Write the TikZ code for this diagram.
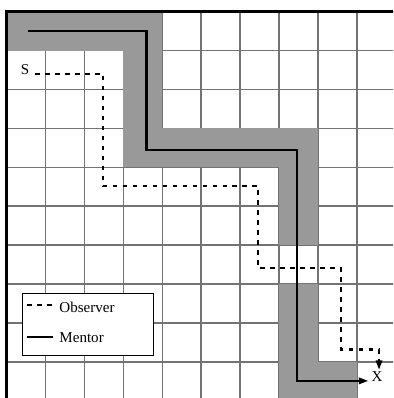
\documentclass[tikz,border=0pt]{standalone}
\usepackage{fontspec}
\setmainfont{Liberation Serif}
\usetikzlibrary{arrows.meta}

\begin{document}
\begin{tikzpicture}[
  font=\fontsize{11}{13}\selectfont,
  >={Triangle[length=7pt,width=4.5pt]},
  gridline/.style={draw=black!55, line width=1.1pt},
  corridor/.style={fill=black!40},
  border/.style={draw=black, line width=2pt},
  mentor/.style={draw=black, line width=1.7pt},
  observer/.style={mentor, dash pattern=on 3.4pt off 3.9pt},
  legendbox/.style={
    draw=black, line width=0.7pt, fill=white, inner sep=0pt,
    minimum width=3.37cm, minimum height=1.59cm
  },
  tag/.style={inner sep=0pt}
]

\clip (-0.172,0.07) rectangle (9.93,10.30);

% ---------- grid and the mentor's corridor ----------
\draw[gridline] (0,0) grid (10,10);
\fill[corridor] (0,9) rectangle (4,10);
\fill[corridor] (3,6) rectangle (4,9);
\fill[corridor] (3,6) rectangle (8,7);
\fill[corridor] (7,4) rectangle (8,7);
\fill[corridor] (7,0) rectangle (8,3);
\fill[corridor] (8,0) rectangle (9,1);
\draw[border] (0,0) rectangle (10,10);

% ---------- start and goal ----------
\node[tag] (S) at (0.47,8.50) {S};
\node[tag] (X) at (9.52,0.61) {X};

% ---------- the two paths ----------
\coordinate (ostart) at (0.73,8.40);
\coordinate (oend)   at (9.57,0.79);
\coordinate (mstart) at (0.56,9.51);
\coordinate (mend)   at (9.30,0.51);

\draw[observer,->] (ostart) -- (2.48,8.40) -- (2.48,5.52) -- (6.46,5.52)
  -- (6.46,3.41) -- (8.59,3.41) -- (8.59,1.32) -- (9.57,1.32) -- (oend);
\draw[mentor,->] (mstart) -- (3.59,9.51) -- (3.59,6.45) -- (7.47,6.45)
  -- (7.47,0.51) -- (mend);

% ---------- legend ----------
\node[legendbox] (legend) at (2.085,1.965) {};
\coordinate (obsA) at (0.53,2.46);
\coordinate (obsB) at (1.20,2.46);
\coordinate (menA) at (0.53,1.645);
\coordinate (menB) at (1.20,1.645);
\draw[observer] (obsA) -- (obsB);
\draw[mentor]   (menA) -- (menB);
\node[tag, anchor=west] (obstext) at (1.35,2.40) {Observer};
\node[tag, anchor=west] (mentext) at (1.35,1.61) {Mentor};

\end{tikzpicture}
\end{document}
